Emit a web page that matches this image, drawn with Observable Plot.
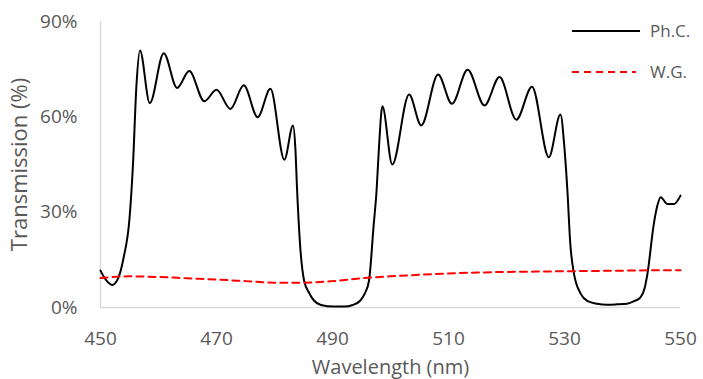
<!DOCTYPE html>
<html>
<head>
<meta charset="utf-8">
<script src="https://cdn.jsdelivr.net/npm/d3@7"></script>
<script src="https://cdn.jsdelivr.net/npm/@observablehq/plot@0.6"></script>
<style>
  body { margin: 0; background: #fff; }
  #wrap { position: relative; width: 703px; height: 379px; font-family: "Open Sans", sans-serif; color: #595959; }
  #legend { position: absolute; left: 0; top: 0; width: 703px; height: 379px; pointer-events: none; }
</style>
</head>
<body>
<div id="wrap"></div>
<script>
// Photonic crystal (Ph.C.) transmission spectrum
const phcWavelength = [450,451,452,453,454,455,455.6,456.2,456.8,458.5,460.9,463.2,465.3,467.9,470,472.4,474.7,477.1,479.3,481.7,483.2,483.6,483.9,484.4,485.1,486,486.8,488,490.2,492,493.5,494.8,495.6,496.3,497.1,497.6,498,498.6,500.3,503.2,505.3,508.2,510.6,513.3,516.2,518.8,521.7,524.4,527.3,529.3,530,530.5,531,531.6,532.8,534,535.6,537.4,539,540.8,542,543.1,543.8,544.3,545.4,546,546.6,547.7,548.9,550];
const phcTransmission = [11.6,8.5,7.1,9.0,15.8,28,45,70,80.9,64.3,80.0,69.1,74.4,64.9,68.5,62.5,69.9,59.9,68.8,46.5,57.3,50,36.8,20,8.5,4.5,2.2,0.8,0.3,0.3,0.8,2.2,4.5,8.5,26,36.8,50,63.3,45.0,67.0,57.3,73.3,64.1,74.8,63.6,72.5,59.1,69.5,47.3,60.7,50,36.8,20,11,4.3,2,1.2,0.9,1.0,1.2,2,3.2,6,10.6,26.3,32,34.7,32.6,32.6,35.2];

// Waveguide (W.G.) transmission
const wgWavelength = [450,455,460,465,470,475,480,485,490,495,500,505,510,515,520,525,530,535,540,545,550];
const wgTransmission = [9.3,9.8,9.6,9.2,8.8,8.3,7.8,7.8,8.3,9.2,9.8,10.3,10.7,11.0,11.2,11.3,11.4,11.5,11.6,11.7,11.7];

const xTicks = [450,470,490,510,530,550];
const yTicks = [0,30,60,90];
const seriesNames = ["Ph.C.", "W.G."];
const seriesColors = ["#000000", "#ff0000"];

const phc = phcWavelength.map((w, i) => ({w, t: phcTransmission[i]}));
const wg = wgWavelength.map((w, i) => ({w, t: wgTransmission[i]}));

const chart = Plot.plot({
  width: 703,
  height: 379,
  marginLeft: 100,
  marginRight: 23,
  marginTop: 21,
  marginBottom: 72,
  style: {fontFamily: "Open Sans, sans-serif", fontSize: "19px", color: "#595959", background: "#fff", overflow: "visible"},
  x: {domain: [450, 550]},
  y: {domain: [0, 90]},
  marks: [
    Plot.ruleX([450], {stroke: "#d9d9d9", strokeWidth: 1.5}),
    Plot.ruleY([0], {stroke: "#d9d9d9", strokeWidth: 1.5}),
    Plot.axisX({ticks: xTicks, tickSize: 0, tickPadding: 24, tickFormat: d => String(d), label: null}),
    Plot.axisY({ticks: yTicks, tickSize: 0, tickPadding: 23, tickFormat: d => d + "%", label: null}),
    Plot.axisX({ticks: [], label: "Wavelength (nm)", labelAnchor: "center", labelOffset: 66, fontSize: 20, labelArrow: "none"}),
    Plot.axisY({ticks: [], label: "Transmission (%)", labelAnchor: "center", labelOffset: 89, fontSize: 22, labelArrow: "none"}),
    Plot.line(phc, {x: "w", y: "t", stroke: seriesColors[0], strokeWidth: 2, curve: "monotone-x"}),
    Plot.line(wg, {x: "w", y: "t", stroke: seriesColors[1], strokeWidth: 2, strokeDasharray: "7,5", curve: "monotone-x"})
  ]
});

const wrap = document.getElementById("wrap");
wrap.appendChild(chart);

// Legend overlay (top right, inside the chart area like the original)
const ns = "http://www.w3.org/2000/svg";
const leg = document.createElementNS(ns, "svg");
leg.setAttribute("id", "legend");
leg.setAttribute("width", 703);
leg.setAttribute("height", 379);
const legRows = [31, 72];
seriesNames.forEach((name, i) => {
  const ln = document.createElementNS(ns, "line");
  ln.setAttribute("x1", 572); ln.setAttribute("x2", i === 0 ? 640 : 636);
  ln.setAttribute("y1", legRows[i]); ln.setAttribute("y2", legRows[i]);
  ln.setAttribute("stroke", seriesColors[i]);
  ln.setAttribute("stroke-width", 2);
  if (i === 1) ln.setAttribute("stroke-dasharray", "7,5");
  leg.appendChild(ln);
  const tx = document.createElementNS(ns, "text");
  tx.setAttribute("x", 650);
  tx.setAttribute("y", legRows[i]);
  tx.setAttribute("dy", "0.35em");
  tx.setAttribute("fill", "#595959");
  tx.setAttribute("font-family", "Open Sans, sans-serif");
  tx.setAttribute("font-size", "17px");
  tx.textContent = name;
  leg.appendChild(tx);
});
wrap.appendChild(leg);
</script>
</body>
</html>
